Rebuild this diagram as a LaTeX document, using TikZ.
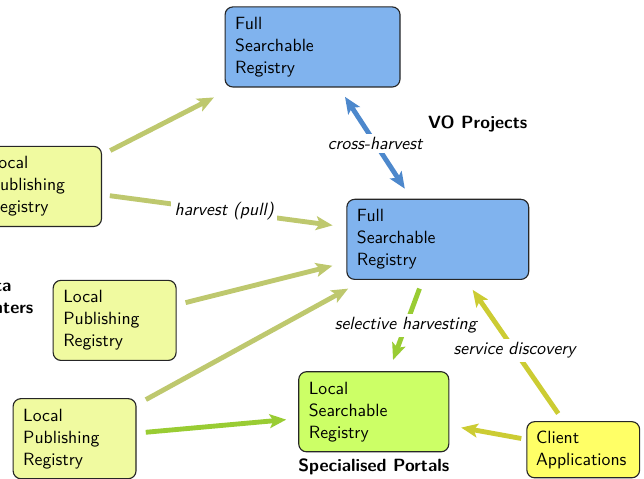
\documentclass[tikz,border=0pt,11pt]{standalone}
\usepackage{tikz}
\usetikzlibrary{shapes,arrows.meta,positioning}

\definecolor{pubfill}{RGB}{240,250,160}
\definecolor{fullfill}{RGB}{128,179,238}
\definecolor{localfill}{RGB}{204,255,102}
\definecolor{clientfill}{RGB}{255,255,102}
\definecolor{harvcol}{RGB}{190,200,110}
\definecolor{selcol}{RGB}{153,204,51}
\definecolor{clientcol}{RGB}{204,204,51}
\definecolor{crosscol}{RGB}{77,136,204}

\begin{document}
\begin{tikzpicture}[
    font=\sffamily,
    reg/.style={rectangle, draw=black!85, line width=0.7pt, rounded corners=0.17cm, align=left, inner xsep=0.22cm, minimum height=1.74cm},
    pubreg/.style={reg, fill=pubfill, text width=2.23cm},
    fullreg/.style={reg, fill=fullfill},
    localreg/.style={reg, fill=localfill, text width=2.82cm},
    clientapp/.style={reg, fill=clientfill, text width=2.05cm, inner xsep=0.2cm, minimum height=1.22cm},
    grouplabel/.style={font=\sffamily\bfseries},
    arrow/.style={-{Stealth[length=0.36cm, width=0.3cm, inset=0.08cm]}, line width=3pt, shorten <=0.2cm, shorten >=0.26cm},
    lbl/.style={fill=white, text=black, font=\sffamily\itshape, inner sep=2pt}
]
\useasboundingbox (0,0) rectangle (13.99,10.40);
\clip (0,0) rectangle (13.99,10.40);

% Registries
\node[fullreg, text width=3.36cm] at (6.79,9.38) (topfull) {Full\\Searchable\\Registry};
\node[fullreg, text width=3.51cm] at (9.51,5.20) (midfull) {Full\\Searchable\\Registry};
\node[localreg] at (8.12,1.455) (lsr) {Local\\Searchable\\Registry};
\node[clientapp] at (12.67,0.63) (client) {Client\\Applications};
\node[pubreg] at (0.87,6.35) (lpr1) {Local\\Publishing\\Registry};
\node[pubreg] at (2.49,3.44) (lpr2) {Local\\Publishing\\Registry};
\node[pubreg] at (1.62,0.87) (lpr3) {Local\\Publishing\\Registry};

% Group labels
\node[grouplabel] at (10.38,7.71) (vo) {VO Projects};
\node[grouplabel, below=0cm of lsr] (portals) {Specialised Portals};
\node[grouplabel, anchor=west, align=left] at (-0.75,3.95) (centers) {Data\\Centers};

% Harvesting
\draw[arrow, harvcol, shorten >=0.47cm] (lpr1) -- (topfull);
\draw[arrow, harvcol, shorten <=0.17cm, shorten >=0.3cm] (lpr1) -- node[lbl] {harvest (pull)} (midfull);
\draw[arrow, harvcol, shorten >=0.31cm] (lpr2) -- (midfull);
\draw[arrow, harvcol, shorten <=0.23cm, shorten >=0.39cm] (lpr3) -- (midfull);
\draw[arrow, selcol] (lpr3) -- (lsr);
\draw[arrow, crosscol, {Stealth[length=0.36cm, width=0.3cm, inset=0.08cm]}-{Stealth[length=0.36cm, width=0.3cm, inset=0.08cm]}, shorten <=0.24cm] (topfull) -- node[lbl] {cross-harvest} (midfull);
\draw[arrow, selcol] (midfull) -- node[lbl] {selective harvesting} (lsr);

% Clients
\draw[arrow, clientcol] (client) -- node[lbl] {service discovery} (midfull);
\draw[arrow, clientcol, shorten <=0.11cm] (client) -- (lsr);

\end{tikzpicture}
\end{document}
